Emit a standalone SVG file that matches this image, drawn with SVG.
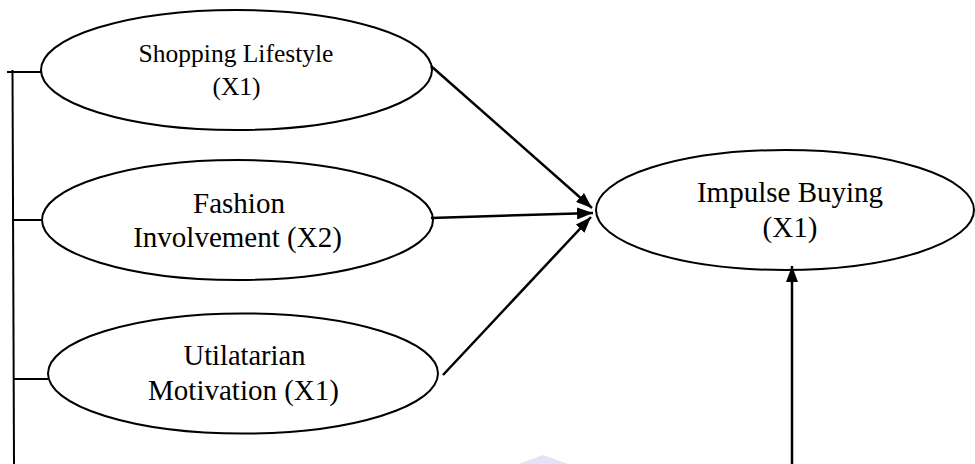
<svg xmlns="http://www.w3.org/2000/svg" width="975" height="464" viewBox="0 0 975 464">
<style>
.node ellipse{fill:#fff;stroke:#000;stroke-width:2}
.node text{font-family:"Liberation Serif","Times New Roman",serif;fill:#000;text-anchor:middle}
.conn line,.conn polyline{stroke:#000;stroke-width:2.5;fill:none}
.brk line{stroke:#000;stroke-width:2;fill:none}
</style>
<defs>
<marker id="ah" viewBox="0 0 16 12" refX="16" refY="6" markerWidth="16" markerHeight="12" markerUnits="userSpaceOnUse" orient="auto">
<path d="M0,0 L16,6 L0,12 Z" fill="#000"/>
</marker>
</defs>
<rect width="975" height="464" fill="#fff"/>
<polygon points="518,464 543,455 568,464" fill="#e2e3f4"/>
<g id="bracket" class="brk">
<line x1="12.5" y1="70" x2="14" y2="464"/>
<line x1="7" y1="72" x2="41" y2="72"/>
<line x1="12.5" y1="220" x2="42" y2="220"/>
<line x1="14" y1="379" x2="48" y2="379"/>
</g>
<g id="n1" class="node">
<ellipse cx="236.5" cy="70" rx="195.5" ry="60"/>
<text x="236" y="62" font-size="25.5">Shopping Lifestyle</text>
<text x="236.5" y="95" font-size="25.5">(X1)</text>
</g>
<g id="n2" class="node">
<ellipse cx="237.5" cy="220" rx="195.5" ry="60"/>
<text x="239" y="213" font-size="29">Fashion</text>
<text x="237.5" y="247" font-size="29">Involvement (X2)</text>
</g>
<g id="n3" class="node">
<ellipse cx="243" cy="373.5" rx="195" ry="60"/>
<text x="244.5" y="365" font-size="28.5">Utilatarian</text>
<text x="243.5" y="400" font-size="29">Motivation (X1)</text>
</g>
<g id="n4" class="node">
<ellipse cx="785" cy="210" rx="189" ry="60"/>
<text x="790" y="202" font-size="29">Impulse Buying</text>
<text x="790" y="237" font-size="29">(X1)</text>
</g>
<g id="connectors" class="conn">
<line x1="431" y1="66" x2="592" y2="208" marker-end="url(#ah)"/>
<line x1="431" y1="218" x2="593" y2="213" marker-end="url(#ah)"/>
<line x1="443" y1="375" x2="591" y2="217" marker-end="url(#ah)"/>
<line x1="792" y1="464" x2="792" y2="266" marker-end="url(#ah)"/>
</g>
</svg>
